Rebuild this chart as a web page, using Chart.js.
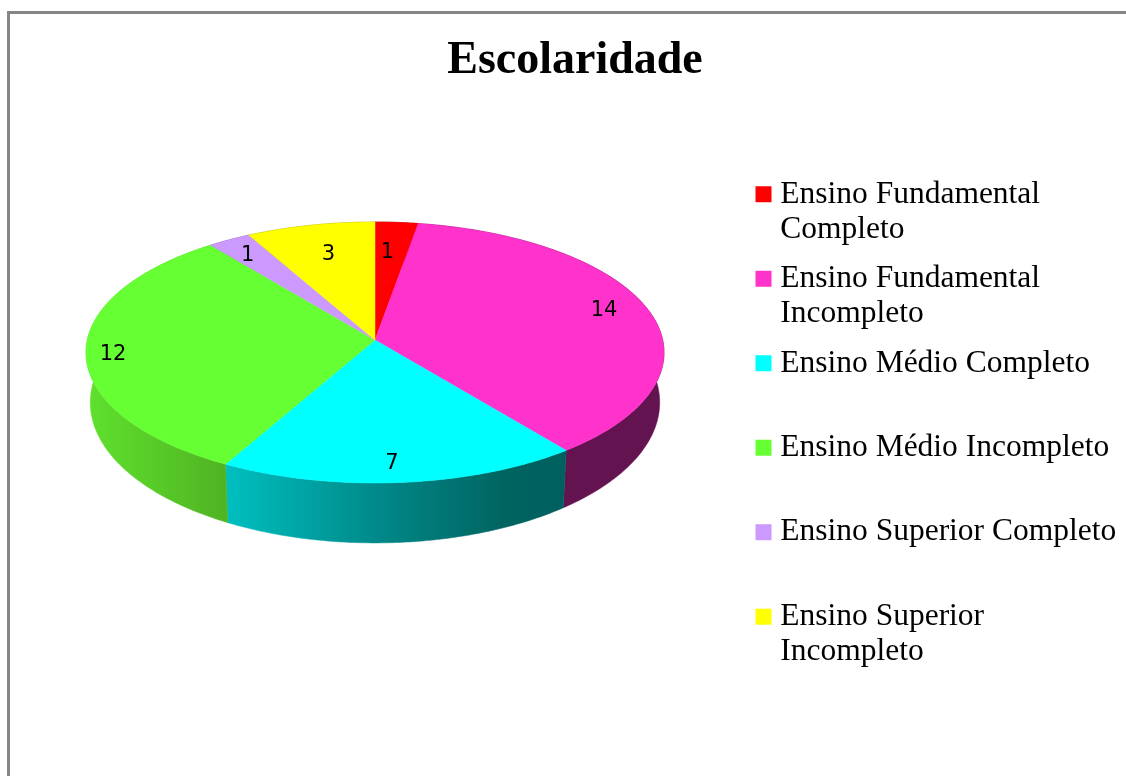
<!DOCTYPE html>
<html lang="pt">
<head>
<meta charset="utf-8">
<title>Escolaridade</title>
<script src="https://cdn.jsdelivr.net/npm/chart.js@4"></script>
<style>
    html, body { margin: 0; padding: 0; background: #fff; overflow: hidden; }
    #moldura { position: absolute; left: 7px; top: 11px; right: -10px; bottom: -10px; border-left: 3px solid #868686; border-top: 3px solid #868686; }
    #grafica { position: absolute; left: 0; top: 0; }
</style>
</head>
<body>
<div id="moldura"></div>
<canvas id="grafica" width="1126" height="776"></canvas>
<script>
const categories = [
    ['Ensino Fundamental', 'Completo'],
    ['Ensino Fundamental', 'Incompleto'],
    ['Ensino Médio Completo', ''],
    ['Ensino Médio Incompleto', ''],
    ['Ensino Superior Completo', ''],
    ['Ensino Superior', 'Incompleto']
];
const valors = [1, 14, 7, 12, 1, 3];
const colors = ['#ff0000', '#ff33cc', '#00ffff', '#66ff33', '#cc99ff', '#ffff00'];

// costat del pastis: parades del degradat per a cada porcio [x, color]
const colorsCostat = [
    [[0, '#800000'], [1, '#800000']],
    [[0, '#631350'], [1, '#631350']],
    [[225, '#00c0c0'], [380, '#008888'], [505, '#006460'], [566, '#006060']],
    [[90, '#5fe02d'], [225, '#50b423']],
    [[0, '#66507f'], [1, '#66507f']],
    [[0, '#808000'], [1, '#808000']]
];
const radiEtiqueta = [0.74, 0.83, 0.85, 0.9, 0.85, 0.75];
const ajustEtiqueta = [[-4, 2], [2, -4], [-5, 4], [-2, 5], [-2, 2], [3, 2]];

// geometria de la perspectiva
const cx = 375, cy = 340, radiX = 287.7, radiY = 129.3, fuga = 0.0958;

function projecta(angle, r) {
    const t = angle + Math.PI / 2;
    const u = r * Math.sin(t);
    const v = -r * Math.cos(t);
    const w = 1 - fuga * v;
    return { x: cx + radiX * u / w, y: cy + radiY * v / w };
}

function base(p) {
    return { x: cx + (p.x - cx) * 0.985, y: p.y + 49 + 0.0763 * (p.y - cy) };
}

function vora(inici, fi) {
    const punts = [];
    const passos = Math.max(2, Math.ceil((fi - inici) * 90));
    for (let i = 0; i <= passos; i++) {
        punts.push(projecta(inici + (fi - inici) * i / passos, 1));
    }
    return punts;
}

function omple(ctx, punts, estil) {
    ctx.beginPath();
    punts.forEach((p, i) => i ? ctx.lineTo(p.x, p.y) : ctx.moveTo(p.x, p.y));
    ctx.closePath();
    ctx.fillStyle = estil;
    ctx.strokeStyle = estil;
    ctx.lineWidth = 0.5;
    ctx.fill();
    ctx.stroke();
}

const pastis3d = {
    id: 'pastis3d',
    afterLayout(chart) {
        const llegenda = chart.legend;
        const marge = llegenda.options.labels.padding;
        const alt = llegenda.bottom - llegenda.top;
        llegenda.left = 762.5 - marge;
        llegenda.top = 178.5 - marge;
        llegenda.bottom = llegenda.top + alt;
    },
    beforeDatasetsDraw(chart) {
        const ctx = chart.ctx;
        const arcs = chart.getDatasetMeta(0).data;

        ctx.save();
        arcs.forEach((arc, i) => {
            const punts = vora(arc.startAngle, arc.endAngle);
            const parades = colorsCostat[i];
            const x0 = parades[0][0];
            const x1 = parades[parades.length - 1][0];
            const grad = ctx.createLinearGradient(x0, 0, x1, 0);
            parades.forEach(parada => grad.addColorStop((parada[0] - x0) / (x1 - x0), parada[1]));
            omple(ctx, punts.concat(punts.map(base).reverse()), grad);
        });
        arcs.forEach((arc, i) => {
            omple(ctx, [{ x: cx, y: cy }].concat(vora(arc.startAngle, arc.endAngle)), colors[i]);
        });

        ctx.font = '21px "DejaVu Sans"';
        ctx.fillStyle = '#000';
        ctx.textAlign = 'center';
        ctx.textBaseline = 'middle';
        arcs.forEach((arc, i) => {
            const p = projecta((arc.startAngle + arc.endAngle) / 2, radiEtiqueta[i]);
            ctx.fillText(String(valors[i]), p.x + ajustEtiqueta[i][0], p.y + ajustEtiqueta[i][1]);
        });
        ctx.restore();
        return false;
    }
};

new Chart(document.getElementById('grafica').getContext('2d'), {
    type: 'pie',
    data: {
        labels: categories,
        datasets: [{
            data: valors,
            backgroundColor: colors,
            // la vora gruixuda fa el quadrat de la llegenda sense separar tant el text
            borderColor: colors,
            borderWidth: 14
        }]
    },
    options: {
        responsive: false,
        animation: false,
        layout: { padding: { left: 24 } },
        plugins: {
            title: {
                display: true,
                text: 'Escolaridade',
                color: '#000',
                font: { family: '"Liberation Serif"', size: 46, weight: 'bold' },
                padding: { top: 34, bottom: 10 }
            },
            legend: {
                position: 'right',
                align: 'start',
                labels: {
                    boxWidth: 2,
                    boxHeight: 2,
                    padding: 14.5,
                    color: '#000',
                    font: { family: '"Liberation Serif"', size: 31.5, lineHeight: 1.111 }
                }
            },
            tooltip: { enabled: false }
        }
    },
    plugins: [pastis3d]
});
</script>
</body>
</html>
